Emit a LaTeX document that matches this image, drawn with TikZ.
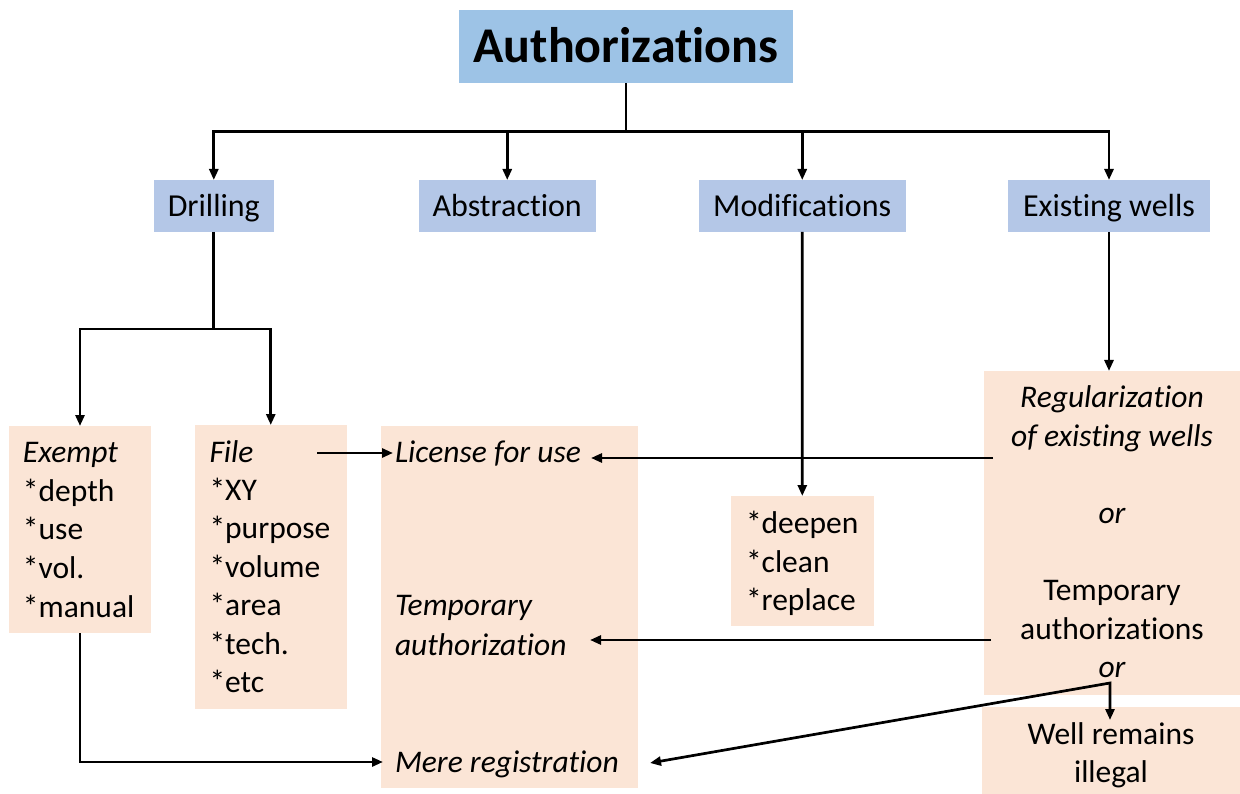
\documentclass[tikz,border=0pt]{standalone}
\usepackage{fontspec}
\setmainfont[Ligatures=NoCommon]{Carlito}
\usetikzlibrary{arrows.meta,fit,calc}
\definecolor{titleblue}{HTML}{9DC3E6}
\definecolor{catblue}{HTML}{B4C7E7}
\definecolor{peach}{HTML}{FBE5D6}
\begin{document}
\begin{tikzpicture}[x=1pt,y=-1pt,
  conn/.style={line width=2.7pt, draw=black},
  arr/.style={conn, -{Triangle[length=11pt,width=9pt]}},
  darr/.style={conn, {Triangle[length=11pt,width=9pt]}-{Triangle[length=11pt,width=9pt]}},
  tbox/.style={fill=titleblue, inner sep=0pt, outer sep=0pt},
  cbox/.style={fill=catblue, inner sep=0pt, outer sep=0pt},
  pbox/.style={fill=peach, inner sep=0pt, outer sep=0pt},
  bodyfont/.style={font=\fontsize{31.5}{38}\selectfont},
  ltxt/.style={bodyfont, inner sep=0pt, outer sep=0pt, anchor=base west},
  ctxt/.style={bodyfont, inner sep=0pt, outer sep=0pt, anchor=base},
  cattxt/.style={font=\fontsize{32}{38}\selectfont, inner sep=0pt, anchor=base},
]
\useasboundingbox (0,0) rectangle (1240,794);

% boxes
\node[tbox, fit={(459,10) (793,83.5)}] (title) {};
\node[cbox, fit={(154,180) (273.6,232)}] (drilling) {};
\node[cbox, fit={(419,180) (595.5,232)}] (abstraction) {};
\node[cbox, fit={(699,180) (905.5,232)}] (modifications) {};
\node[cbox, fit={(1008,180) (1210,232)}] (existing) {};
\node[pbox, fit={(9,426) (151,633)}] (exempt) {};
\node[pbox, fit={(195,425) (346.5,709)}] (file) {};
\node[pbox, fit={(381,426) (638,788)}] (license) {};
\node[pbox, fit={(731,496) (873.6,625.7)}] (deepen) {};
\node[pbox, fit={(984,371) (1240,695)}] (reg) {};
\node[pbox, fit={(981.6,707) (1240,794)}] (well) {};

% texts
\node[font=\bfseries\fontsize{50}{60}\selectfont, inner sep=0pt, anchor=base] (titletxt) at (626,63) {Authorizations};
\node[cattxt] (drillingtxt) at (213.8,217) {Drilling};
\node[cattxt] (abstractiontxt) at (507.2,217) {Abstraction};
\node[cattxt] (modtxt) at (802.2,217) {Modifications};
\node[cattxt] (existtxt) at (1109,217) {Existing wells};

\node[ltxt, font=\itshape\fontsize{31.5}{38}\selectfont] (ex0) at (23,462) {Exempt};
\node[ltxt] (ex1) at (23,501) {*depth};
\node[ltxt] (ex2) at (23,539.5) {*use};
\node[ltxt] (ex3) at (23,578) {*vol.};
\node[ltxt] (ex4) at (23,617) {*manual};

\node[ltxt, font=\itshape\fontsize{31.5}{38}\selectfont] (fi0) at (209.5,462) {File};
\node[ltxt] (fi1) at (209.5,500) {*XY};
\node[ltxt] (fi2) at (209.5,538.5) {*purpose};
\node[ltxt] (fi3) at (209.5,577) {*volume};
\node[ltxt] (fi4) at (209.5,615.5) {*area};
\node[ltxt] (fi5) at (209.5,654) {*tech.};
\node[ltxt] (fi6) at (209.5,692) {*etc};

\node[ltxt, font=\itshape\fontsize{31.5}{38}\selectfont] (lic1) at (395,462) {License for use};
\node[ltxt, font=\itshape\fontsize{31.5}{38}\selectfont] (lic2) at (395,615.5) {Temporary};
\node[ltxt, font=\itshape\fontsize{31.5}{38}\selectfont] (lic3) at (395,655) {authorization};
\node[ltxt, font=\itshape\fontsize{31.5}{38}\selectfont] (lic4) at (395,772) {Mere registration};

\node[ltxt] (de1) at (746,533) {*deepen};
\node[ltxt] (de2) at (746,572) {*clean};
\node[ltxt] (de3) at (746,610.5) {*replace};

\node[ctxt, font=\itshape\fontsize{31.5}{38}\selectfont] (re1) at (1112,407) {Regularization};
\node[ctxt, font=\itshape\fontsize{31.5}{38}\selectfont] (re2) at (1112,446) {of existing wells};
\node[ctxt, font=\itshape\fontsize{31.5}{38}\selectfont] (re3) at (1112,523) {or};
\node[ctxt] (re4) at (1112,600) {Temporary};
\node[ctxt] (re5) at (1112,639) {authorizations};
\node[ctxt, font=\itshape\fontsize{31.5}{38}\selectfont] (re6) at (1112,677) {or};

\node[ctxt] (we1) at (1111,744) {Well remains};
\node[ctxt] (we2) at (1111,782) {illegal};

% connector coordinates
\coordinate (bus) at (626,131.5);
\coordinate (dsplit) at (213.8,329);
\coordinate (mereIn) at (383,762);
\coordinate (fileOut) at (317,453);
\coordinate (licIn) at (393,453);
\coordinate (regOut1) at (993,458);
\coordinate (licEnd) at (591,458);
\coordinate (regOut2) at (991,640);
\coordinate (tempEnd) at (590,640);
\coordinate (orFork) at (1110,683);
\coordinate (wellIn) at (1110,720);
\coordinate (mereR) at (650,763);

% connectors
\draw[conn] (title.south) -- (bus);
\draw[arr] (bus) -| (drilling.north);
\draw[arr] (bus) -| (existing.north);
\draw[arr] (abstraction.north |- bus) -- (abstraction.north);
\draw[arr] (modifications.north |- bus) -- (modifications.north);

\draw[conn] (drilling.south) -- (dsplit);
\draw[arr] (dsplit) -| (exempt.north);
\draw[arr] (dsplit) -| (file.north);

\draw[arr] (exempt.south) |- (mereIn);
\draw[arr] (fileOut) -- (licIn);
\draw[arr] (regOut1) -- (licEnd);
\draw[arr] (regOut2) -- (tempEnd);
\draw[arr] (modifications.south) -- (deepen.north);
\draw[arr] (existing.south) -- (existing.south |- reg.north);
\draw[darr] (mereR) -- (orFork) -- (wellIn);
\end{tikzpicture}
\end{document}
